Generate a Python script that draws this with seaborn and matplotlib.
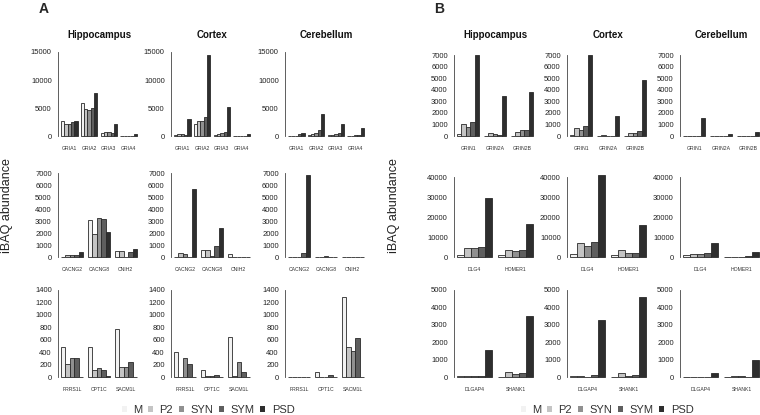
import pandas as pd
import matplotlib
matplotlib.use("Agg")
import matplotlib.pyplot as plt
import matplotlib.patches as mpatches
import seaborn as sns

# fractions / regions
fractions = ['M', 'P2', 'SYN', 'SYM', 'PSD']
regions = ['Hippocampus', 'Cortex', 'Cerebellum']
frac_colors = ['#f2f2f2', '#c4c4c4', '#909090', '#5e5e5e', '#2e2e2e']

# --- Panel A ---
# row 1: AMPA receptor subunits  (each list = one fraction, values per gene)
genes_a1 = ['GRIA1', 'GRIA2', 'GRIA3', 'GRIA4']
a1_hip = [[2600, 5900, 500, 0], [2200, 4900, 700, 0], [2200, 4700, 650, 0],
          [2500, 5000, 600, 0], [2700, 7700, 2100, 300]]
a1_ctx = [[200, 2100, 200, 0], [300, 2600, 400, 0], [400, 2700, 600, 0],
          [200, 3400, 700, 0], [3000, 14400, 5100, 300]]
a1_cer = [[0, 200, 100, 50], [0, 400, 200, 50], [50, 600, 400, 200],
          [400, 1100, 600, 200], [600, 4000, 2200, 1500]]

# row 2: auxiliary subunits
genes_a2 = ['CACNG2', 'CACNG8', 'CNIH2']
a2_hip = [[0, 3100, 500], [200, 1900, 500], [150, 3250, 0], [150, 3200, 400], [450, 2100, 700]]
a2_ctx = [[0, 550, 250], [350, 570, 0], [250, 100, 0], [0, 950, 0], [5700, 2400, 0]]
a2_cer = [[0, 0, 0], [0, 0, 0], [0, 80, 0], [350, 0, 0], [6850, 0, 0]]

# row 3
genes_a3 = ['FRRS1L', 'CPT1C', 'SACM1L']
a3_hip = [[480, 480, 780], [210, 110, 160], [300, 140, 160], [300, 120, 240], [0, 20, 0]]
a3_ctx = [[400, 110, 645], [0, 15, 15], [300, 15, 245], [205, 40, 75], [0, 0, 0]]
a3_cer = [[0, 80, 1290], [0, 0, 475], [0, 0, 415], [0, 30, 620], [0, 0, 0]]

# --- Panel B ---
genes_b1 = ['GRIN1', 'GRIN2A', 'GRIN2B']
b1_hip = [[200, 0, 0], [1050, 250, 350], [800, 180, 550], [1250, 100, 550], [7000, 3450, 3800]]
b1_ctx = [[100, 0, 0], [700, 80, 300], [550, 0, 300], [900, 30, 400], [7000, 1750, 4850]]
b1_cer = [[30, 0, 0], [30, 0, 0], [0, 0, 0], [30, 0, 0], [1550, 200, 350]]

genes_b2 = ['DLG4', 'HOMER1']
b2_hip = [[1200, 900], [4400, 3400], [4700, 2900], [5200, 3400], [29500, 16500]]
b2_ctx = [[1500, 900], [7000, 3600], [5400, 2200], [7400, 2200], [41000, 15800]]
b2_cer = [[900, 0], [1400, 0], [1400, 0], [1900, 300], [7200, 2500]]

genes_b3 = ['DLGAP4', 'SHANK1']
b3_hip = [[50, 0], [80, 300], [80, 200], [80, 250], [1580, 3520]]
b3_ctx = [[30, 0], [80, 230], [20, 80], [100, 140], [3300, 4580]]
b3_cer = [[0, 0], [0, 40], [0, 30], [20, 20], [250, 950]]

# axis tick settings per row
yticks_a = [[0, 5000, 10000, 15000], list(range(0, 7001, 1000)), list(range(0, 1401, 200))]
yticks_b = [list(range(0, 7001, 1000)), list(range(0, 40001, 10000)), list(range(0, 5001, 1000))]

W, H = 760, 415
sns.set_style("white")
plt.rcParams['font.family'] = ['Liberation Sans', 'DejaVu Sans']

fig = plt.figure(figsize=(W / 100, H / 100), dpi=100)


def long_df(genes, vals):
    rows = []
    for f, series in zip(fractions, vals):
        for g, v in zip(genes, series):
            rows.append({'gene': g, 'fraction': f, 'value': v})
    return pd.DataFrame(rows)


def draw(genes, vals, yt, x_px, y0_px, ytick_px):
    ax_w = 82
    ytop_px = ytick_px - 7
    ybot_px = y0_px + 2
    ax = fig.add_axes([x_px / W, 1 - ybot_px / H, ax_w / W, (ybot_px - ytop_px) / H])
    df = long_df(genes, vals)
    sns.barplot(data=df, x='gene', y='value', hue='fraction', order=genes,
                hue_order=fractions, palette=frac_colors, saturation=1,
                width=5 / 6, edgecolor='#2a2a2a', linewidth=0.6,
                errorbar=None, legend=False, ax=ax)
    n = len(genes)
    S = n - 1 + 5 / 6
    m = 3 * S / 76
    ax.set_xlim(-5 / 12 - m, n - 1 + 5 / 12 + m)
    top = yt[-1]
    unit = top / (y0_px - ytick_px)
    ax.set_ylim(-2 * unit, (y0_px - ytop_px) * unit)
    ax.set_yticks(yt)
    ax.set_yticklabels([str(t) for t in yt])
    for s in ['top', 'right', 'bottom']:
        ax.spines[s].set_visible(False)
    ax.spines['left'].set_bounds(0, top)
    ax.spines['left'].set_color('#444444')
    ax.spines['left'].set_linewidth(0.6)
    ax.tick_params(axis='y', length=3, width=0.6, color='#444444', pad=1.5,
                   labelsize=5.5, labelcolor='#222222')
    ax.tick_params(axis='x', length=0, pad=5.5, labelsize=3.7, labelcolor='#333333')
    ax.set_xlabel('')
    ax.set_ylabel('')
    ax.set_facecolor('none')
    return ax


cols_a = [58, 171, 285]
cols_b = [454, 567, 680]
rows_y0 = [136, 257, 377]
ticks_a_px = [52, 173, 290]
ticks_b_px = [55, 177, 290]

panel_a = [(genes_a1, [a1_hip, a1_ctx, a1_cer]),
           (genes_a2, [a2_hip, a2_ctx, a2_cer]),
           (genes_a3, [a3_hip, a3_ctx, a3_cer])]
panel_b = [(genes_b1, [b1_hip, b1_ctx, b1_cer]),
           (genes_b2, [b2_hip, b2_ctx, b2_cer]),
           (genes_b3, [b3_hip, b3_ctx, b3_cer])]

for r in range(3):
    genes, reg_vals = panel_a[r]
    for c in range(3):
        draw(genes, reg_vals[c], yticks_a[r], cols_a[c], rows_y0[r], ticks_a_px[r])
    genes, reg_vals = panel_b[r]
    for c in range(3):
        draw(genes, reg_vals[c], yticks_b[r], cols_b[c], rows_y0[r], ticks_b_px[r])

# column titles
for cols in (cols_a, cols_b):
    for c, reg in enumerate(regions):
        fig.text((cols[c] + 41) / W, 1 - 35 / H, reg, ha='center', va='center',
                 fontsize=7, fontweight='bold', color='#111111')

# panel letters
fig.text(44 / W, 1 - 9 / H, 'A', ha='center', va='center', fontsize=10, fontweight='bold')
fig.text(439 / W, 1 - 9 / H, 'B', ha='center', va='center', fontsize=10, fontweight='bold')

# y labels
for xp in (7.5, 394):
    fig.text(xp / W, 1 - 206 / H, 'iBAQ abundance', rotation=90, ha='center',
             va='center', fontsize=9, color='#222222')

# legends
handles = [mpatches.Patch(facecolor=col, edgecolor='none') for col in frac_colors]
for xc in (208, 607):
    fig.legend(handles, fractions, loc='center', ncol=5, frameon=False,
               bbox_to_anchor=(xc / W, 1 - 410 / H), fontsize=8,
               handlelength=0.45, handleheight=0.45, handletextpad=0.6,
               columnspacing=0.5, borderpad=0, labelcolor='#333333')

fig.savefig('out.png', dpi=100, facecolor='white')
